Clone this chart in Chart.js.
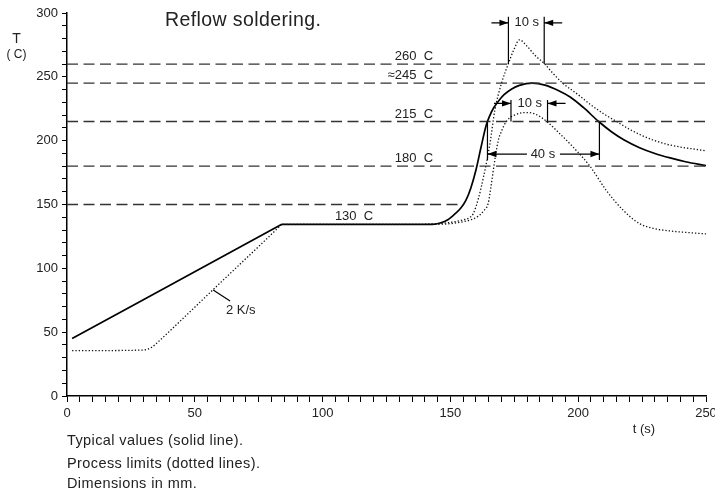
<!DOCTYPE html>
<html><head><meta charset="utf-8">
<script src="https://cdn.jsdelivr.net/npm/chart.js@4"></script>
<style>html,body{margin:0;padding:0;overflow:hidden;background:#fff}#wrap{width:730px;height:492px}</style>
</head><body><div id="wrap"><canvas id="c" width="730" height="492"></canvas></div>
<script>
// ---- data (time in s, temperature in C) ----
const solidT    = [2, 83.5, 84, 143, 146, 149, 152, 154, 156, 158, 160, 162, 164, 165.5, 167, 169, 171, 174, 177, 182, 187, 192, 197, 202, 208, 213, 218, 224, 230, 236, 242, 250];
const solidTemp = [45, 133.95, 134.5, 134.5, 135.5, 138, 143, 147, 153, 163, 177, 195, 212, 220, 226, 231.5, 236, 240.5, 243.3, 245, 243.5, 239.5, 234, 226, 215, 207, 200.5, 194.5, 190, 186.5, 183.5, 180.5];

const upperT    = [140, 145, 150, 155, 157.7, 159, 161, 163, 165.5, 167.4, 170, 172.7, 175, 177, 180, 183, 186.7, 190, 194, 200, 205, 210, 215, 220, 225, 230, 235, 240, 245, 250];
const upperTemp = [134.5, 135, 136, 138, 140, 143, 155, 172, 198, 224, 245, 260.5, 272, 279, 274, 267, 260.5, 253, 245, 236, 228, 221, 215, 209, 204, 200, 197, 195, 193.5, 192];

const lowerT    = [2, 30, 33, 36, 40, 45, 57, 83.5, 84, 143, 150, 155, 158, 161, 163, 164.8, 165.8, 166.8, 167.8, 168.7, 170, 171.4, 173, 175, 178, 180, 183, 187.7, 192, 198, 204.6, 211, 217.6, 224, 230, 235, 240, 250];
const lowerTemp = [35.5, 36, 38, 43, 50.5, 60, 83, 133.5, 134.5, 134.5, 135, 136.5, 138, 141, 145, 151, 163, 177, 190, 200, 207.5, 213.5, 217.5, 220, 221.8, 222, 221, 215, 207, 195, 180, 161, 145.5, 135, 131, 129.5, 128.5, 127];

const refLevels = [260, 245, 215, 180, 150];
const refEnds   = [250, 250, 250, 250, 154];
const refLabels = ['260  C', '\u2248245  C', '215  C', '180  C', ''];

const xTickLabels = [0, 50, 100, 150, 200, 250];
const yTickLabels = [0, 50, 100, 150, 200, 250, 300];

// dimension markers (times in s, temperatures in C)
const dimTop = {label: '10 s', t1: 172.7, t2: 186.7, base: 260, end: 297, arrow: 292.3};
const dimMid = {label: '10 s', t1: 173.7, t2: 188, base: 215, end: 231.8, arrow: 229.2};
const dim40  = {label: '40 s', t1: 164.5, t2: 208.3, base: 215, end: 184.8, arrow: 189.5};
const plateauLabel = {text: '130  C', t: 112.3, temp: 134.5};
const rateLabel = {text: '2 K/s', t: 62.2, temp: 67.3, from: [57.2, 83], to: [63.8, 74.4]};

const FONT = "'Liberation Sans', Arial, Helvetica, sans-serif";
const TXT = '#222';

function pts(xs, ys) { return xs.map((x, i) => ({x: x, y: ys[i]})); }

const datasets = refLevels.map((lv, i) => ({
  data: [{x: 0, y: lv}, {x: refEnds[i], y: lv}],
  borderColor: '#333', borderWidth: 1.3, borderDash: [11, 5.5], pointRadius: 0, tension: 0
}));
datasets.push({data: pts(lowerT, lowerTemp), borderColor: '#111', borderWidth: 1.3, borderDash: [1.3, 2], pointRadius: 0, cubicInterpolationMode: 'monotone'});
datasets.push({data: pts(upperT, upperTemp), borderColor: '#111', borderWidth: 1.3, borderDash: [1.3, 2], pointRadius: 0, cubicInterpolationMode: 'monotone'});
datasets.push({data: pts(solidT, solidTemp), borderColor: '#000', borderWidth: 1.7, pointRadius: 0, cubicInterpolationMode: 'monotone'});

function arrowHead(ctx, x, y, dir) {
  ctx.beginPath();
  ctx.moveTo(x, y);
  ctx.lineTo(x - dir * 9, y - 3.2);
  ctx.lineTo(x - dir * 9, y + 3.2);
  ctx.closePath();
  ctx.fill();
}

const annot = {
  id: 'annot',
  afterDatasetsDraw(chart) {
    const ctx = chart.ctx, xs = chart.scales.x, ys = chart.scales.y;
    const px = v => xs.getPixelForValue(v), py = v => ys.getPixelForValue(v);
    ctx.save();
    ctx.fillStyle = TXT; ctx.strokeStyle = '#000'; ctx.lineWidth = 1.2;
    ctx.font = '13px ' + FONT;
    // reference labels
    ctx.textAlign = 'right'; ctx.textBaseline = 'alphabetic';
    refLevels.forEach((lv, i) => { if (refLabels[i]) ctx.fillText(refLabels[i], px(143.2), py(lv) - 4); });
    ctx.textAlign = 'center';
    ctx.fillText(plateauLabel.text, px(plateauLabel.t), py(plateauLabel.temp) - 4);
    // rate label
    ctx.textAlign = 'left'; ctx.textBaseline = 'middle';
    ctx.fillText(rateLabel.text, px(rateLabel.t), py(rateLabel.temp));
    ctx.beginPath();
    ctx.moveTo(px(rateLabel.from[0]), py(rateLabel.from[1]));
    ctx.lineTo(px(rateLabel.to[0]), py(rateLabel.to[1]));
    ctx.stroke();
    ctx.fillStyle = '#000';
    // outside-arrow dims
    [dimTop, dimMid].forEach(d => {
      const x1 = px(d.t1), x2 = px(d.t2), yb = py(d.base), ye = py(d.end), ya = py(d.arrow);
      ctx.beginPath();
      ctx.moveTo(x1, yb); ctx.lineTo(x1, ye);
      ctx.moveTo(x2, yb); ctx.lineTo(x2, ye);
      ctx.moveTo(x1 - 17, ya); ctx.lineTo(x1, ya);
      ctx.moveTo(x2 + 18, ya); ctx.lineTo(x2, ya);
      ctx.stroke();
      arrowHead(ctx, x1, ya, 1);
      arrowHead(ctx, x2, ya, -1);
      ctx.fillStyle = TXT; ctx.textAlign = 'center'; ctx.textBaseline = 'middle';
      ctx.fillText(d.label, (x1 + x2) / 2 + 0.5, ya);
      ctx.fillStyle = '#000';
    });
    // inside-arrow dim (40 s)
    {
      const d = dim40;
      const x1 = px(d.t1), x2 = px(d.t2), yb = py(d.base), ye = py(d.end), ya = py(d.arrow);
      const xc = px(186.2);
      ctx.beginPath();
      ctx.moveTo(x1, yb); ctx.lineTo(x1, ye);
      ctx.moveTo(x2, yb); ctx.lineTo(x2, ye);
      ctx.moveTo(x1, ya); ctx.lineTo(xc - 16, ya);
      ctx.moveTo(xc + 17, ya); ctx.lineTo(x2, ya);
      ctx.stroke();
      arrowHead(ctx, x1, ya, -1);
      arrowHead(ctx, x2, ya, 1);
      ctx.fillStyle = TXT; ctx.textAlign = 'center'; ctx.textBaseline = 'middle';
      ctx.fillText(d.label, xc, ya);
    }
    // title, axis titles, notes
    ctx.fillStyle = TXT; ctx.textBaseline = 'alphabetic';
    ctx.textAlign = 'left';
    ctx.font = '19.5px ' + FONT;
    try { ctx.letterSpacing = '0.4px'; } catch (e) {}
    ctx.fillText('Reflow soldering.', 165, 26);
    try { ctx.letterSpacing = '0px'; } catch (e) {}
    ctx.textAlign = 'center';
    ctx.font = '14px ' + FONT;
    ctx.fillText('T', 16.5, 43);
    ctx.font = '12px ' + FONT;
    ctx.fillText('( C)', 16.5, 58);
    ctx.font = '13px ' + FONT;
    ctx.fillText('t (s)', 644, 432.5);
    ctx.textAlign = 'left';
    ctx.font = '14.5px ' + FONT;
    try { ctx.letterSpacing = '0.4px'; } catch (e) {}
    ctx.fillText('Typical values (solid line).', 67, 444.5);
    ctx.fillText('Process limits (dotted lines).', 67, 467.5);
    ctx.fillText('Dimensions in mm.', 67, 488);
    ctx.restore();
  }
};

new Chart(document.getElementById('c'), {
  type: 'line',
  data: {datasets: datasets},
  plugins: [annot],
  options: {
    responsive: false, animation: false, devicePixelRatio: 1,
    layout: {padding: {top: 13, right: 24, left: 0, bottom: 0}},
    plugins: {legend: {display: false}, tooltip: {enabled: false}, title: {display: false}},
    elements: {line: {fill: false}},
    scales: {
      x: {
        type: 'linear', min: 0, max: 250,
        afterFit(s) { s.height = 96; },
        ticks: {stepSize: 5, maxTicksLimit: 200, autoSkip: false, maxRotation: 0, padding: 4,
          color: TXT, font: {family: FONT, size: 13},
          callback: v => xTickLabels.includes(v) ? String(v) : ''},
        grid: {drawOnChartArea: false, drawTicks: true, tickLength: 6, color: '#000', lineWidth: 1},
        border: {display: true, color: '#000', width: 1.5}
      },
      y: {
        type: 'linear', min: 0, max: 300,
        afterFit(s) { s.width = 67; },
        ticks: {stepSize: 10, maxTicksLimit: 200, autoSkip: false, padding: 4,
          color: TXT, font: {family: FONT, size: 13},
          callback: v => yTickLabels.includes(v) ? String(v) : ''},
        grid: {drawOnChartArea: false, drawTicks: true, tickLength: 5, color: '#000', lineWidth: 1},
        border: {display: true, color: '#000', width: 1.5}
      }
    }
  }
});
</script></body></html>
